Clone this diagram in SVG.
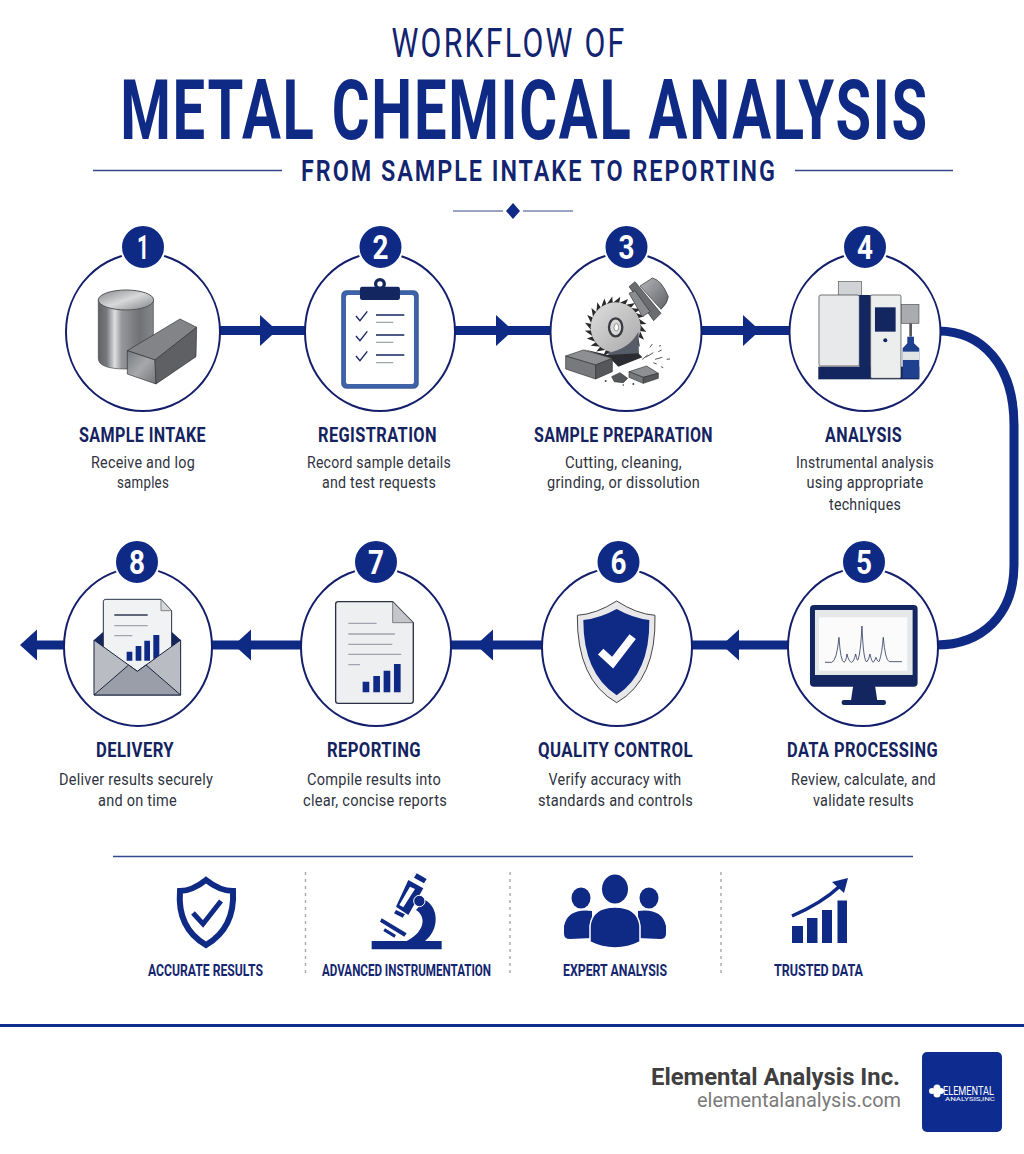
<svg xmlns="http://www.w3.org/2000/svg" width="1024" height="1154" viewBox="0 0 1024 1154">
<style>
text{font-family:Roboto,"Liberation Sans",sans-serif}
.ring{fill:#fff;stroke:#141f6b;stroke-width:2}
.badge{fill:#0f2a85;stroke:#fff;stroke-width:2}
.num{font-size:33px;font-weight:700;fill:#fff;text-anchor:middle}
.lab{font-size:21px;font-weight:700;fill:#14235f;text-anchor:middle;letter-spacing:.5px}
.txt{font-size:17px;fill:#2f3340;text-anchor:middle;letter-spacing:.3px}
.foot{font-size:17px;font-weight:700;fill:#14266f;text-anchor:middle}
.c{fill:none;stroke:#0f2a85;stroke-width:9}
.rule{stroke:#33488f;stroke-width:1.4;fill:none}
.dash{stroke:#a8a8a8;stroke-width:1.4;stroke-dasharray:3 4;fill:none}
.navy{fill:#0f2a85}
.dark{fill:#14265f}
.g1{stroke:#14265f;stroke-width:4;fill:none}
.g2{stroke:#a0a4ad;stroke-width:4;fill:none}
.e{stroke:#1b2440;stroke-width:3;stroke-linejoin:round}
.s{stroke:#333;stroke-width:2;stroke-linejoin:round}
</style>
<defs>
<marker id="a" markerUnits="userSpaceOnUse" markerWidth="18" markerHeight="32" refX="0" refY="15.5" orient="auto"><path d="M0,0 L17,15.500 L0,31Z" fill="#0f2a85"/></marker>
<linearGradient id="metal" x1="0" x2="1" y1="0" y2="0"><stop offset="0" stop-color="#5f6165"/><stop offset=".15" stop-color="#77797d"/><stop offset=".3" stop-color="#dedfe0"/><stop offset=".42" stop-color="#96989c"/><stop offset=".75" stop-color="#6f7175"/><stop offset="1" stop-color="#85878b"/></linearGradient>
<linearGradient id="top" x1="0" x2="1" y1="0" y2="1"><stop offset="0" stop-color="#85878b"/><stop offset=".5" stop-color="#d8d9da"/><stop offset="1" stop-color="#7f8185"/></linearGradient>
<linearGradient id="face" x1="0" x2="1" y1="0" y2="1"><stop offset="0" stop-color="#777a7e"/><stop offset=".5" stop-color="#a6a8ab"/><stop offset="1" stop-color="#737579"/></linearGradient>
<linearGradient id="blade" x1="0" x2="1" y1="0" y2="1"><stop offset="0" stop-color="#dedede"/><stop offset="1" stop-color="#a8a8a8"/></linearGradient>
<linearGradient id="steel" x1="0" x2="1" y1="0" y2="1"><stop offset="0" stop-color="#b4b6b9"/><stop offset="1" stop-color="#5f6165"/></linearGradient>
<path id="t" d="M172,100L196,80L192,102Z" fill="#2b2b2b"/>
</defs>

<g id="header">
<text x="509" y="57" font-size="40" fill="#12236f" text-anchor="middle" letter-spacing="3" textLength="235" lengthAdjust="spacingAndGlyphs">WORKFLOW OF</text>
<text transform="translate(524.500,139) scale(.689,1)" font-size="84" font-weight="700" fill="#0f2a85" text-anchor="middle" letter-spacing="2.500">METAL CHEMICAL ANALYSIS</text>
<text x="539" y="181" font-size="30" font-weight="600" fill="#12246f" text-anchor="middle" letter-spacing="2.500" textLength="476" lengthAdjust="spacingAndGlyphs">FROM SAMPLE INTAKE TO REPORTING</text>
<path class="rule" d="M93,170.500H282M795,170.500H953"/>
<path d="M453,211H503M523,211H573" stroke="#7a86ad" stroke-width="1.400" fill="none"/>
<path class="navy" d="M513,203 L520,211 L513,219 L506,211Z"/>
</g>

<g id="connectors">
<polyline class="c" points="220,330.500 260,330.500 306,330.500" marker-mid="url(#a)"/>
<polyline class="c" points="455,330.500 496,330.500 551,330.500" marker-mid="url(#a)"/>
<polyline class="c" points="701,330.500 743,330.500 790,330.500" marker-mid="url(#a)"/>
<path class="c" d="M938,331 C982,331 1014,365 1014,425 L1014,565 C1014,615 982,645 936,645"/>
<polyline class="c" points="789,645 739,645 691,645" marker-mid="url(#a)"/>
<polyline class="c" points="542,645 493,645 450,645" marker-mid="url(#a)"/>
<polyline class="c" points="301,645 251,645 211,645" marker-mid="url(#a)"/>
<polyline class="c" points="65,645 37,645 30,645" marker-mid="url(#a)"/>
</g>

<g id="node1">
<ellipse class="ring" cx="143" cy="332" rx="77" ry="79"/>
<g transform="translate(40,220) scale(.3333)">
<path d="M175,240V415Q175,447 258,447Q340,447 340,415V240Z" fill="url(#metal)" stroke="#444" stroke-width="2"/>
<ellipse cx="258" cy="240" rx="83" ry="30" fill="url(#top)" stroke="#555" stroke-width="3"/>
<path class="s" d="M262,392L420,297L470,322L345,420Z" fill="#828488"/>
<path class="s" d="M262,392L345,420L348,492L262,462Z" fill="url(#face)"/>
<path class="s" d="M345,420L470,322L468,410L348,492Z" fill="#5e6064"/>
</g>
<circle class="badge" cx="143" cy="247" r="22"/>
<text class="num" x="143" y="259" textLength="12" lengthAdjust="spacingAndGlyphs">1</text>
<text class="lab" x="142.500" y="442" textLength="127" lengthAdjust="spacingAndGlyphs">SAMPLE INTAKE</text>
<text class="txt" x="143" y="468" textLength="104" lengthAdjust="spacingAndGlyphs">Receive and log</text>
<text class="txt" x="143" y="488" textLength="52" lengthAdjust="spacingAndGlyphs">samples</text>
</g>

<g id="node2">
<ellipse class="ring" cx="380" cy="332" rx="75" ry="79"/>
<g transform="translate(40,220) scale(.3333)">
<rect x="905" y="212" width="230" height="293" rx="14" fill="#3f63a8" stroke="#23407f" stroke-width="2"/>
<rect x="918" y="225" width="204" height="267" rx="6" fill="#fff"/>
<circle cx="1020" cy="192" r="18" fill="#14265f"/><circle cx="1020" cy="192" r="8" fill="#fff"/>
<rect x="960" y="200" width="120" height="40" rx="7" fill="#14265f"/>
<path class="g1" d="M948,288L960,302L982,274M948,348L960,362L982,334M948,408L960,422L982,394" stroke-width="5"/>
<path class="g1" d="M1008,285H1093M1008,345H1093M1008,405H1093"/>
<path class="g2" d="M1008,307H1060M1008,367H1060M1008,428H1060"/>
</g>
<circle class="badge" cx="380.500" cy="247" r="22"/>
<text class="num" x="380.500" y="259" textLength="16" lengthAdjust="spacingAndGlyphs">2</text>
<text class="lab" x="377.500" y="442" textLength="119" lengthAdjust="spacingAndGlyphs">REGISTRATION</text>
<text class="txt" x="379" y="468" textLength="144" lengthAdjust="spacingAndGlyphs">Record sample details</text>
<text class="txt" x="379" y="488" textLength="114" lengthAdjust="spacingAndGlyphs">and test requests</text>
</g>

<g id="node3">
<ellipse class="ring" cx="626" cy="332" rx="75.500" ry="79"/>
<g transform="translate(555,270) scale(.3333)">
<path d="M255,48L292,24Q320,30 340,80Q338,100 318,118Z" fill="url(#steel)" class="s"/>
<path d="M222,50L240,35L318,130L296,152Z" fill="#6a6c70" class="s"/>
<use href="#t"/>
<use href="#t" transform="rotate(15 182 172)"/><use href="#t" transform="rotate(30 182 172)"/><use href="#t" transform="rotate(45 182 172)"/><use href="#t" transform="rotate(60 182 172)"/><use href="#t" transform="rotate(75 182 172)"/><use href="#t" transform="rotate(90 182 172)"/><use href="#t" transform="rotate(105 182 172)"/><use href="#t" transform="rotate(120 182 172)"/><use href="#t" transform="rotate(135 182 172)"/><use href="#t" transform="rotate(150 182 172)"/><use href="#t" transform="rotate(165 182 172)"/><use href="#t" transform="rotate(180 182 172)"/><use href="#t" transform="rotate(195 182 172)"/><use href="#t" transform="rotate(210 182 172)"/><use href="#t" transform="rotate(225 182 172)"/><use href="#t" transform="rotate(240 182 172)"/><use href="#t" transform="rotate(255 182 172)"/><use href="#t" transform="rotate(270 182 172)"/><use href="#t" transform="rotate(285 182 172)"/><use href="#t" transform="rotate(300 182 172)"/><use href="#t" transform="rotate(315 182 172)"/><use href="#t" transform="rotate(330 182 172)"/><use href="#t" transform="rotate(345 182 172)"/>
<circle cx="182" cy="172" r="75" fill="url(#blade)"/>
<path d="M222,70L240,62L285,125L262,140Z" fill="#8a8c90" class="s"/>
<path d="M160,248Q225,235 250,185L252,255L205,268L160,265Z" fill="#565c68"/>
<path d="M85,238L160,255L250,250L262,262L190,290L165,265Z" fill="#2b2d33"/>
<ellipse cx="182" cy="172" rx="20" ry="27" fill="#d8d8d8" stroke="#3a3c42" stroke-width="7"/>
<ellipse cx="184" cy="172" rx="7" ry="11" fill="#fff" stroke="#666" stroke-width="2"/>
<path class="s" d="M32,258L85,240L172,265L122,285Z" fill="#8d8f93"/>
<path class="s" d="M32,258L122,285V327L32,297Z" fill="#77797d"/>
<path class="s" d="M122,285L172,265V305L122,327Z" fill="#55575b"/>
<path class="s" d="M222,305L275,288L310,310L265,322Z" fill="#8d8f93"/>
<path class="s" d="M222,305L265,322V340L222,322Z" fill="#77797d"/>
<path class="s" d="M265,322L310,310V325L265,340Z" fill="#55575b"/>
<path class="s" d="M170,320L195,308L218,325L205,338L178,335Z" fill="#55575b"/>
<path d="M262,268L278,255M272,262L295,248M285,232L292,222M300,268L322,262M310,245L320,240M335,268L345,267M295,278L305,282M318,290L325,293M312,228L318,227" stroke="#555" stroke-width="3" fill="none"/>
<circle cx="152" cy="333" r="3" fill="#444"/><circle cx="235" cy="342" r="3" fill="#444"/><circle cx="205" cy="345" r="2.500" fill="#444"/>
</g>
<circle class="badge" cx="626.500" cy="247" r="22"/>
<text class="num" x="626.500" y="259" textLength="16" lengthAdjust="spacingAndGlyphs">3</text>
<text class="lab" x="623.500" y="442" textLength="179" lengthAdjust="spacingAndGlyphs">SAMPLE PREPARATION</text>
<text class="txt" x="623.500" y="468" textLength="117" lengthAdjust="spacingAndGlyphs">Cutting, cleaning,</text>
<text class="txt" x="623.500" y="488" textLength="153" lengthAdjust="spacingAndGlyphs">grinding, or dissolution</text>
</g>

<g id="node4">
<ellipse class="ring" cx="865" cy="332" rx="75.500" ry="79"/>
<g transform="translate(500,220) scale(.3333)">
<rect x="1015" y="185" width="70" height="42" fill="#d0d2d5" stroke="#555" stroke-width="2"/>
<rect x="955" y="440" width="303" height="38" class="dark"/>
<rect x="957" y="225" width="121" height="213" rx="6" fill="#e8e9ea" stroke="#333" stroke-width="2"/>
<rect x="1078" y="225" width="34" height="225" class="dark"/>
<rect x="1112" y="225" width="91" height="250" rx="4" fill="#eceded" stroke="#333" stroke-width="2"/>
<rect x="1125" y="262" width="62" height="73" class="dark"/>
<circle cx="1156" cy="361" r="6" fill="#14265f"/>
<rect x="1205" y="253" width="52" height="57" fill="#a9abae" stroke="#555" stroke-width="2"/>
<rect x="1228" y="310" width="8" height="40" fill="#555"/>
<path d="M1222,350H1242V370L1258,385V475H1208V385L1222,370Z" fill="#1f3f8f"/>
<rect x="1208" y="395" width="50" height="25" fill="#e2e3e5"/>
</g>
<circle class="badge" cx="865" cy="247" r="22"/>
<text class="num" x="865" y="259" textLength="16" lengthAdjust="spacingAndGlyphs">4</text>
<text class="lab" x="863.500" y="442" textLength="77" lengthAdjust="spacingAndGlyphs">ANALYSIS</text>
<text class="txt" x="865" y="468" textLength="138" lengthAdjust="spacingAndGlyphs">Instrumental analysis</text>
<text class="txt" x="865" y="488" textLength="117" lengthAdjust="spacingAndGlyphs">using appropriate</text>
<text class="txt" x="865" y="510" textLength="72" lengthAdjust="spacingAndGlyphs">techniques</text>
</g>

<g id="node5">
<ellipse class="ring" cx="863" cy="647" rx="75" ry="79"/>
<g transform="translate(470,540) scale(.3333)">
<path d="M1150,435H1215L1222,482H1143Z" fill="#14265f"/>
<rect x="1115" y="480" width="133" height="15" rx="7" fill="#14265f"/>
<rect x="1020" y="195" width="323" height="245" rx="12" fill="#14265f"/>
<rect x="1035" y="210" width="293" height="195" fill="#e6e7e8"/>
<rect x="1047" y="232" width="265" height="160" fill="#fbfbfb"/>
<path d="M1065,367H1085Q1100,365 1107,292Q1112,365 1122,367Q1128,365 1131,342Q1136,365 1145,367Q1152,365 1157,342Q1162,365 1164,360Q1172,340 1176,258Q1180,360 1190,366Q1197,360 1200,342Q1205,365 1210,367Q1216,360 1218,352Q1224,368 1228,364Q1236,340 1240,292Q1246,362 1258,365H1296" fill="none" stroke="#344066" stroke-width="2.500"/>
</g>
<circle class="badge" cx="864" cy="562" r="22"/>
<text class="num" x="864" y="574" textLength="16" lengthAdjust="spacingAndGlyphs">5</text>
<text class="lab" x="862.500" y="757" textLength="151" lengthAdjust="spacingAndGlyphs">DATA PROCESSING</text>
<text class="txt" x="863.500" y="785" textLength="145" lengthAdjust="spacingAndGlyphs">Review, calculate, and</text>
<text class="txt" x="863.500" y="806" textLength="101" lengthAdjust="spacingAndGlyphs">validate results</text>
</g>

<g id="node6">
<ellipse class="ring" cx="617" cy="647" rx="75" ry="79"/>
<g transform="translate(470,540) scale(.3333)">
<path d="M440,183Q500,222 555,226Q560,420 440,488Q320,420 322,226Q380,222 440,183Z" fill="#e8e8ea" stroke="#444" stroke-width="3"/>
<path d="M440,207Q490,235 538,240Q540,400 440,466Q340,400 340,240Q390,235 440,207Z" fill="#0f2a85"/>
<path d="M392,335L428,368L488,290" fill="none" stroke="#fff" stroke-width="24"/>
</g>
<circle class="badge" cx="618.500" cy="562" r="22"/>
<text class="num" x="618.500" y="574" textLength="16" lengthAdjust="spacingAndGlyphs">6</text>
<text class="lab" x="615.500" y="757" textLength="155" lengthAdjust="spacingAndGlyphs">QUALITY CONTROL</text>
<text class="txt" x="615" y="785" textLength="133" lengthAdjust="spacingAndGlyphs">Verify accuracy with</text>
<text class="txt" x="615.500" y="806" textLength="155" lengthAdjust="spacingAndGlyphs">standards and controls</text>
</g>

<g id="node7">
<ellipse class="ring" cx="376" cy="647" rx="75" ry="79"/>
<g transform="translate(0,540) scale(.3333)">
<path d="M1015,185H1178L1240,248V482Q1240,490 1232,490H1015Q1007,490 1007,482V193Q1007,185 1015,185Z" fill="#eeeff1" stroke="#2a2f45" stroke-width="4"/>
<path d="M1178,185V248H1240Z" fill="#c4c6ca" stroke="#555" stroke-width="2"/>
<path class="g2" d="M1045,250H1130M1045,282H1185M1045,313H1177M1045,343H1204M1045,374H1080" stroke-width="5"/>
<path class="navy" d="M1088,425h20v32h-20zM1120,408h20v49h-20zM1151,392h20v65h-20zM1182,372h20v85h-20z"/>
</g>
<circle class="badge" cx="376" cy="562" r="22"/>
<text class="num" x="376" y="574" textLength="16" lengthAdjust="spacingAndGlyphs">7</text>
<text class="lab" x="374" y="757" textLength="94" lengthAdjust="spacingAndGlyphs">REPORTING</text>
<text class="txt" x="374" y="785" textLength="134" lengthAdjust="spacingAndGlyphs">Compile results into</text>
<text class="txt" x="375" y="806" textLength="144" lengthAdjust="spacingAndGlyphs">clear, concise reports</text>
</g>

<g id="node8">
<ellipse class="ring" cx="138" cy="647" rx="74" ry="79"/>
<g transform="translate(0,540) scale(.3333)">
<path d="M282,300L310,275H515L542,300V340H282Z" fill="#14265f"/>
<path d="M310,185Q310,178 317,178H483L515,212V400H310Z" fill="#f1f2f4" stroke="#2a2f45" stroke-width="3"/>
<path d="M483,178V212H515Z" fill="#d8d9dc" stroke="#555" stroke-width="2"/>
<path d="M343,225H443" stroke="#30374f" stroke-width="4"/>
<path class="g2" d="M343,257H443M343,287H397"/>
<path class="navy" d="M380,335h17v27h-17zM407,318h17v44h-17zM433,302h17v60h-17zM460,285h18v77h-18z"/>
<path class="e" d="M282,300L412,394L542,300V465H282Z" fill="#b9bcc3"/>
<path class="e" d="M282,465L386,375L412,394L438,375L542,465Z" fill="#9a9ea8"/>
</g>
<circle class="badge" cx="137" cy="562" r="22"/>
<text class="num" x="137" y="574" textLength="16" lengthAdjust="spacingAndGlyphs">8</text>
<text class="lab" x="135" y="757" textLength="78" lengthAdjust="spacingAndGlyphs">DELIVERY</text>
<text class="txt" x="136" y="785" textLength="154" lengthAdjust="spacingAndGlyphs">Deliver results securely</text>
<text class="txt" x="137.500" y="806" textLength="79" lengthAdjust="spacingAndGlyphs">and on time</text>
</g>

<g id="features">
<path class="rule" d="M113,856.500H913"/>
<path class="dash" d="M305.500,872V977M510,872V977M721,872V977"/>
<g id="feature1">
<path d="M206,880Q192,891 180,891Q177,928 206,945Q235,928 233,891Q220,891 206,880Z" fill="none" stroke="#0f2a85" stroke-width="6"/>
<path d="M193,913L203,924L221,901" fill="none" stroke="#0f2a85" stroke-width="5"/>
<text class="foot" x="205.500" y="976" textLength="115" lengthAdjust="spacingAndGlyphs">ACCURATE RESULTS</text>
</g>
<g id="feature2">
<g transform="translate(360,865) scale(.3333)">
<path class="navy" d="M35,228H245V253H35ZM195,105C238,128 238,195 195,228H140C195,200 200,155 168,135Z"/>
<path class="navy" fill-rule="evenodd" d="M145,45L190,70L145,150L108,125ZM150,65L118,120L130,127L165,72Z"/>
<path class="navy" d="M170,25L200,42L192,55L162,38ZM108,135L135,148L128,158L102,145ZM65,160L140,205L133,215L60,170ZM75,190L108,210L103,218L70,198Z"/>
<circle cx="178" cy="108" r="17" class="navy" stroke="#fff" stroke-width="3"/>
</g>
<text class="foot" x="406.500" y="976" textLength="169" lengthAdjust="spacingAndGlyphs">ADVANCED INSTRUMENTATION</text>
</g>
<g id="feature3">
<ellipse class="navy" cx="581" cy="898" rx="9.500" ry="10.500"/>
<ellipse class="navy" cx="649" cy="898" rx="9.500" ry="10.500"/>
<path class="navy" d="M592,911Q568,908 564,926V934Q564,939 570,939L592,938ZM638,911Q662,908 666,926V934Q666,939 660,939L638,938Z"/>
<ellipse class="navy" cx="615" cy="889" rx="13" ry="14.500"/>
<path class="navy" d="M590,926Q592,907 615,907Q638,907 640,926V942Q628,948 615,948Q602,948 590,942Z" stroke="#fff" stroke-width="1.500"/>
<text class="foot" x="615" y="976" textLength="104" lengthAdjust="spacingAndGlyphs">EXPERT ANALYSIS</text>
</g>
<g id="feature4">
<path class="navy" d="M792,926h11v17h-11zM807,918h10.500v25h-10.500zM822,910h10v33h-10zM837.500,900.500h9.500v42.500h-9.500z"/>
<path d="M792,916Q822,903 840,886" fill="none" stroke="#0f2a85" stroke-width="3.500"/>
<path class="navy" d="M848,878L832,882L844,893Z"/>
<text class="foot" x="818.500" y="976" textLength="89" lengthAdjust="spacingAndGlyphs">TRUSTED DATA</text>
</g>
</g>

<g id="footer">
<rect x="0" y="1024" width="1024" height="3" fill="#0f2d8f"/>
<text x="900" y="1085" font-size="24" font-weight="700" fill="#3f3f3f" text-anchor="end" textLength="249" lengthAdjust="spacingAndGlyphs">Elemental Analysis Inc.</text>
<text x="901" y="1107" font-size="20" fill="#7a7a7a" text-anchor="end" textLength="204" lengthAdjust="spacingAndGlyphs">elementalanalysis.com</text>
<rect x="922" y="1052" width="80" height="80" rx="5" fill="#0e2c8f"/>
<circle cx="932" cy="1091" r="3" fill="#fff"/><circle cx="937" cy="1088" r="3.500" fill="#fff"/><circle cx="937" cy="1094" r="3.500" fill="#fff"/><circle cx="941" cy="1091" r="3" fill="#fff"/>
<text x="968.500" y="1095" font-size="13" fill="#fff" text-anchor="middle" textLength="51" lengthAdjust="spacingAndGlyphs">ELEMENTAL</text>
<text x="970" y="1101" font-size="4.500" fill="#fff" text-anchor="middle" textLength="50" lengthAdjust="spacingAndGlyphs">ANALYSIS,INC</text>
</g>
</svg>
